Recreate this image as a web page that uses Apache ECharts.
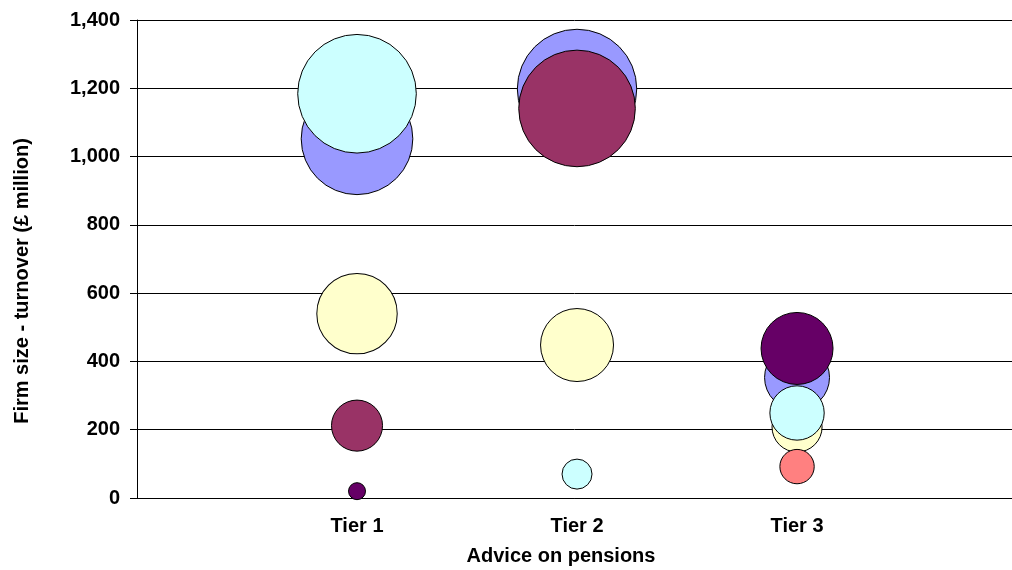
<!DOCTYPE html>
<html>
<head>
<meta charset="utf-8">
<script src="https://cdn.jsdelivr.net/npm/echarts@6/dist/echarts.min.js"></script>
<style>
html,body{margin:0;padding:0;background:#fff;}
#chart{width:1012px;height:570px;}
</style>
</head>
<body>
<div id="chart"></div>
<script>
// ---- data ----
const tiers = ['Tier 1', 'Tier 2', 'Tier 3'];
const yTicks = [0, 200, 400, 600, 800, 1000, 1200, 1400];
const xTitle = 'Advice on pensions';
const yTitle = 'Firm size - turnover (£ million)';
const seriesNames = ['Series 1', 'Series 2', 'Series 3', 'Series 4', 'Series 5', 'Series 6'];
const seriesColors = ['#9999FF', '#993366', '#FFFFCC', '#CCFFFF', '#660066', '#FF8080'];
// turnover per tier (null = no bubble)
const turnover1 = [1052, 1198, 353];
const turnover2 = [212, 1141, null];
const turnover3 = [540, 448, 208];
const turnover4 = [1184, 70, 249];
const turnover5 = [20, null, 438];
const turnover6 = [null, null, 92];
// bubble size (area-proportional)
const size1 = [86.5, 99.0, 29.3];
const size2 = [18.1, 94.4, null];
const size3 = [44.9, 37.0, 17.4];
const size4 = [97.7, 6.25, 20.5];
const size5 = [2.0, null, 36.0];
const size6 = [null, null, 8.2];

const turnovers = [turnover1, turnover2, turnover3, turnover4, turnover5, turnover6];
const sizes = [size1, size2, size3, size4, size5, size6];

const FONT = 'Liberation Sans, Arial, Helvetica, sans-serif';
const FS = 20;

const series = seriesNames.map((name, si) => {
  const data = [];
  turnovers[si].forEach((v, ti) => {
    if (v !== null) data.push([ti + 1, v, sizes[si][ti]]);
  });
  return {
    name: name,
    type: 'scatter',
    data: data,
    symbol: 'circle',
    symbolSize: d => 12 * Math.sqrt(d[2]),
    itemStyle: { color: seriesColors[si], borderColor: '#000', borderWidth: 1, opacity: 1 },
    emphasis: { disabled: true },
    z: 3
  };
});

const chart = echarts.init(document.getElementById('chart'), null, { renderer: 'canvas' });
chart.setOption({
  animation: false,
  backgroundColor: '#fff',
  grid: { left: 137, right: 0, top: 20, bottom: 72, containLabel: false },
  xAxis: {
    type: 'value',
    min: 0, max: 3.977, interval: 1,
    axisLine: { show: true, lineStyle: { color: '#000', width: 1 } },
    axisTick: { show: false },
    splitLine: { show: false },
    axisLabel: {
      margin: 18,
      color: '#000',
      fontFamily: FONT, fontWeight: 'bold', fontSize: FS,
      showMaxLabel: false,
      formatter: v => (Number.isInteger(v) && v >= 1 && v <= tiers.length) ? tiers[v - 1] : ''
    }
  },
  yAxis: {
    type: 'value',
    min: yTicks[0], max: yTicks[yTicks.length - 1], interval: yTicks[1] - yTicks[0],
    axisLine: { show: true, lineStyle: { color: '#000', width: 1 } },
    axisTick: { show: true, length: 7, lineStyle: { color: '#000' } },
    splitLine: { show: true, lineStyle: { color: '#000', width: 1 } },
    axisLabel: {
      margin: 17,
      color: '#000',
      fontFamily: FONT, fontWeight: 'bold', fontSize: FS,
      formatter: v => v.toLocaleString('en-GB')
    }
  },
  graphic: [
    {
      type: 'text', x: 22, y: 281, rotation: Math.PI / 2,
      style: { text: yTitle, fill: '#000', font: 'bold ' + FS + 'px ' + FONT, textAlign: 'center', textVerticalAlign: 'middle' }
    },
    {
      type: 'text', x: 561, y: 556,
      style: { text: xTitle, fill: '#000', font: 'bold ' + FS + 'px ' + FONT, textAlign: 'center', textVerticalAlign: 'middle' }
    }
  ],
  series: series
});
</script>
</body>
</html>
